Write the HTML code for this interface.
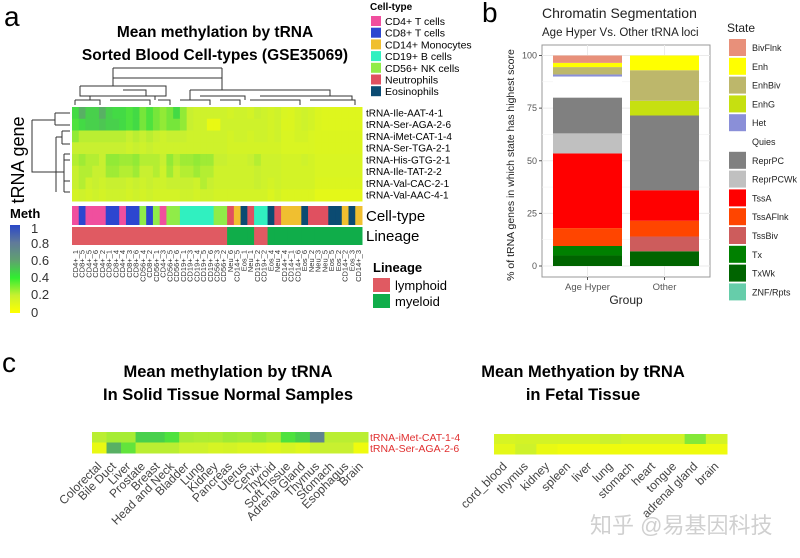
<!DOCTYPE html>
<html><head><meta charset="utf-8"><style>
body{margin:0;background:#fff;width:800px;height:558px;overflow:hidden;font-family:"Liberation Sans","Noto Sans CJK SC",sans-serif}
svg{display:block}
</style></head><body>
<svg id="fig" width="800" height="558" xmlns="http://www.w3.org/2000/svg" font-family="Liberation Sans, Noto Sans CJK SC, sans-serif">
<rect width="800" height="558" fill="#fff"/>
<!-- Panel a -->
<text x="4" y="26" font-size="28">a</text>
<text x="215" y="37" font-size="15.5" font-weight="bold" text-anchor="middle">Mean methylation by tRNA</text>
<text x="215" y="60" font-size="15.5" font-weight="bold" text-anchor="middle">Sorted Blood Cell-types (GSE35069)</text>
<text transform="translate(24,160) rotate(-90)" font-size="18" text-anchor="middle">tRNA gene</text>
<g id="dendroTop" stroke="#333" fill="none" stroke-width="1">
<path d="M113,68 V78 H222 V68 M113,68 H222 M113,78 V86 M222,78 V90 M80,86 V96 H166 V86 H80 M90,96 V100 M155,96 V100 M123,90 H146 V96 M190,90 H330 V96 M190,90 V100 M200,96 H245 V100 M260,96 H352 V100 M75,100 H100 V105 M110,100 H150 V105 M158,100 H170 V105 M180,100 H210 V105 M220,100 H240 V105 M250,100 H300 V105 M310,100 H355 V105 M75,100 V105 M100,100 V105 M150,100 V105 M170,100 V105 M210,100 V105 M240,100 V105 M300,100 V105 M355,100 V105"/>
</g>
<g id="dendroLeft" stroke="#333" fill="none" stroke-width="1">
<path d="M32,120 V172 H56 M32,120 H55 M55,113 V125 M55,113 H70 M55,125 H70 M56,137 V192 M56,137 H62 M62,131 V144 M62,131 H70 M62,144 H70 M56,172 H64 M64,154 V192 M64,160 V181 M64,160 H70 M64,181 H70 M64,154 H70 M64,192 H70"/>
</g>
<g id="heatA"></g>
<g id="rowLabelsA" font-size="10"></g>
<g id="cellTypeBar"></g>
<g id="lineageBar"></g>
<g id="colLabelsA" font-size="7.5" fill="#333"></g>
<text x="366" y="221" font-size="15">Cell-type</text>
<text x="366" y="241" font-size="15">Lineage</text>
<defs><linearGradient id="methGrad" x1="0" y1="1" x2="0" y2="0">
<stop offset="0" stop-color="#ffff00"/><stop offset="0.2" stop-color="#c8f030"/><stop offset="0.4" stop-color="#30ee30"/><stop offset="0.6" stop-color="#60a070"/><stop offset="0.8" stop-color="#607a9a"/><stop offset="1" stop-color="#2a48c8"/></linearGradient></defs>
<text x="10" y="218" font-size="13" font-weight="bold">Meth</text>
<rect x="10" y="225" width="10" height="88" fill="url(#methGrad)"/>
<g font-size="13" fill="#333">
<text x="31" y="233">1</text><text x="31" y="248">0.8</text><text x="31" y="265">0.6</text><text x="31" y="282">0.4</text><text x="31" y="299">0.2</text><text x="31" y="317">0</text></g>
<g id="ctLegend"></g>
<text x="373" y="272" font-size="13" font-weight="bold">Lineage</text>
<rect x="373" y="278" width="17" height="14" fill="#e05a62"/>
<text x="395" y="290" font-size="13">lymphoid</text>
<rect x="373" y="294" width="17" height="14" fill="#10ad4a"/>
<text x="395" y="306" font-size="13">myeloid</text>

<!-- Panel b -->
<text x="482" y="22" font-size="28">b</text>
<text x="542" y="18" font-size="14" fill="#222">Chromatin Segmentation</text>
<text x="542" y="36" font-size="11.5" fill="#222">Age Hyper Vs. Other tRNA loci</text>
<g id="chartB"></g>
<text transform="translate(514,165) rotate(-90)" font-size="10.5" text-anchor="middle" fill="#222">% of tRNA genes in which state has highest score</text>
<text x="626" y="304" font-size="12" text-anchor="middle" fill="#222">Group</text>
<text x="727" y="32" font-size="12" fill="#222">State</text>
<g id="legendB" font-size="9" fill="#222"></g>

<!-- Panel c -->
<text x="2" y="372" font-size="28">c</text>
<text x="228" y="377" font-size="16.5" font-weight="bold" text-anchor="middle">Mean methylation by tRNA</text>
<text x="228" y="400" font-size="16.5" font-weight="bold" text-anchor="middle">In Solid Tissue Normal Samples</text>
<text x="583" y="377" font-size="16.5" font-weight="bold" text-anchor="middle">Mean Methyation by tRNA</text>
<text x="583" y="400" font-size="16.5" font-weight="bold" text-anchor="middle">in Fetal Tissue</text>
<g id="heatC"></g>
<g id="heatF"></g>
<text x="370" y="441" font-size="10.5" fill="#e03030">tRNA-iMet-CAT-1-4</text>
<text x="370" y="452" font-size="10.5" fill="#e03030">tRNA-Ser-AGA-2-6</text>
<text x="590" y="533" font-size="22" fill="#d0d0d0">知乎 @易基因科技</text>
</svg>
<script>
// ---- Panel a data ----
const geneNames = ["tRNA-Ile-AAT-4-1","tRNA-Ser-AGA-2-6","tRNA-iMet-CAT-1-4","tRNA-Ser-TGA-2-1","tRNA-His-GTG-2-1","tRNA-Ile-TAT-2-2","tRNA-Val-CAC-2-1","tRNA-Val-AAC-4-1"];
const sampleLabels = ["CD4+_1","CD8+_5","CD4+_5","CD4+_6","CD4+_2","CD8+_1","CD8+_4","CD4+_4","CD8+_3","CD8+_6","CD56+_4","CD8+_2","CD56+_1","CD4+_3","CD56+_5","CD56+_6","CD19+_1","CD19+_3","CD19+_4","CD19+_5","CD19+_6","CD56+_3","CD56+_2","Neu_6","CD14+_5","Eos_1","Neu_1","CD19+_2","CD19+_2","Eos_4","Neu_4","CD14+_4","CD14+_1","CD14+_6","Eos_6","Neu_2","Neu_3","Neu_5","Eos_5","Eos_2","CD14+_2","Eos_3","CD14+_3"];
const sampleTypes = ["CD4","CD8","CD4","CD4","CD4","CD8","CD8","CD4","CD8","CD8","CD56","CD8","CD56","CD4","CD56","CD56","CD19","CD19","CD19","CD19","CD19","CD56","CD56","Neu","CD14","Eos","Neu","CD19","CD19","Eos","Neu","CD14","CD14","CD14","Eos","Neu","Neu","Neu","Eos","Eos","CD14","Eos","CD14"];
const sampleLineage = ["L","L","L","L","L","L","L","L","L","L","L","L","L","L","L","L","L","L","L","L","L","L","L","M","M","M","M","L","L","M","M","M","M","M","M","M","M","M","M","M","M","M","M"];
const methRow1 = [0.42,0.55,0.45,0.45,0.55,0.45,0.42,0.42,0.38,0.42,0.32,0.38,0.32,0.28,0.32,0.42,0.28,0.2,0.18,0.18,0.18,0.18,0.18,0.16,0.18,0.18,0.16,0.2,0.18,0.16,0.18,0.14,0.13,0.16,0.18,0.16,0.13,0.12,0.12,0.12,0.12,0.12,0.12];
const methRow2 = [0.38,0.42,0.45,0.45,0.48,0.45,0.45,0.42,0.38,0.42,0.32,0.38,0.32,0.28,0.32,0.32,0.28,0.2,0.18,0.18,0.08,0.08,0.18,0.18,0.18,0.18,0.18,0.18,0.18,0.16,0.18,0.13,0.13,0.16,0.18,0.16,0.13,0.12,0.12,0.12,0.12,0.12,0.12];
const methRow3 = [0.28,0.22,0.22,0.22,0.22,0.22,0.22,0.22,0.2,0.22,0.2,0.22,0.2,0.18,0.2,0.2,0.2,0.18,0.18,0.18,0.18,0.18,0.18,0.16,0.18,0.18,0.16,0.18,0.18,0.16,0.18,0.14,0.14,0.16,0.16,0.14,0.13,0.13,0.13,0.13,0.13,0.13,0.13];
const methRow4 = [0.2,0.2,0.2,0.2,0.2,0.2,0.2,0.2,0.18,0.2,0.18,0.2,0.18,0.18,0.18,0.18,0.18,0.18,0.18,0.18,0.18,0.18,0.18,0.16,0.16,0.16,0.16,0.16,0.16,0.16,0.16,0.14,0.14,0.14,0.14,0.14,0.13,0.13,0.13,0.13,0.13,0.13,0.13];
const methRow5 = [0.23,0.26,0.23,0.23,0.2,0.28,0.28,0.26,0.26,0.28,0.23,0.23,0.23,0.2,0.28,0.23,0.26,0.26,0.28,0.26,0.26,0.2,0.2,0.18,0.18,0.18,0.2,0.23,0.18,0.18,0.18,0.16,0.16,0.16,0.18,0.16,0.14,0.14,0.14,0.14,0.14,0.14,0.14];
const methRow6 = [0.2,0.23,0.23,0.2,0.2,0.26,0.26,0.23,0.23,0.26,0.2,0.2,0.23,0.18,0.26,0.2,0.23,0.23,0.26,0.23,0.23,0.18,0.18,0.18,0.18,0.18,0.18,0.2,0.18,0.18,0.18,0.16,0.16,0.16,0.16,0.16,0.14,0.14,0.14,0.14,0.14,0.14,0.14];
const methRow7 = [0.2,0.23,0.18,0.2,0.18,0.2,0.2,0.2,0.18,0.2,0.18,0.2,0.18,0.18,0.2,0.2,0.2,0.2,0.18,0.23,0.2,0.18,0.18,0.18,0.18,0.18,0.18,0.2,0.18,0.16,0.18,0.16,0.16,0.16,0.16,0.16,0.13,0.13,0.13,0.13,0.13,0.13,0.13];
const methRow8 = [0.16,0.18,0.16,0.18,0.16,0.18,0.18,0.18,0.16,0.18,0.16,0.18,0.16,0.16,0.16,0.16,0.18,0.18,0.16,0.18,0.18,0.16,0.16,0.16,0.16,0.16,0.16,0.16,0.16,0.13,0.16,0.13,0.13,0.13,0.13,0.13,0.1,0.1,0.1,0.1,0.1,0.1,0.1];
const methRowsA = [methRow1,methRow2,methRow3,methRow4,methRow5,methRow6,methRow7,methRow8];
const cellTypeKeys = ["CD4","CD8","CD14","CD19","CD56","Neu","Eos"];
const cellTypeNames = ["CD4+ T cells","CD8+ T cells","CD14+ Monocytes","CD19+ B cells","CD56+ NK cells","Neutrophils","Eosinophils"];
const cellTypeColors = {CD4:"#f04f9e",CD8:"#2c46d0",CD14:"#f0bf30",CD19:"#30f0c0",CD56:"#90ec48",Neu:"#e05060",Eos:"#0b4b72"};
const lineageColors = {L:"#e05a62",M:"#10ad4a"};

// ---- Panel b data ----
const groups = ["Age Hyper","Other"];
const states = ["BivFlnk","Enh","EnhBiv","EnhG","Het","Quies","ReprPC","ReprPCWk","TssA","TssAFlnk","TssBiv","Tx","TxWk","ZNF/Rpts"];
const stateColors = ["#e8907a","#ffff00","#bdb76b","#c6e010","#8a8fd8","#ffffff","#808080","#c0c0c0","#ff0000","#ff4500","#cd5c5c","#008000","#006400","#66cdaa"];
const ageHyperPct = [3.5,2,3.5,0,1,10,17,9.5,35.5,8.5,0,4.5,5,0];
const otherPct = [0,7,14.5,7,0,0,35.5,0,14.5,7.5,7,0,7,0];
const yTicksB = [0,25,50,75,100];

// ---- Panel c data ----
const solidTissues = ["Colorectal","Bile Duct","Liver","Prostate","Breast","Head and Neck","Bladder","Lung","Kidney","Pancreas","Uterus","Cervix","Thyroid","Soft Tissue","Adrenal Gland","Thymus","Stomach","Esophagus","Brain"];
const solidIMet = [0.22,0.25,0.25,0.45,0.45,0.38,0.25,0.24,0.24,0.26,0.25,0.28,0.25,0.38,0.45,0.75,0.22,0.22,0.22];
const solidSer = [0.08,0.55,0.35,0.22,0.22,0.22,0.18,0.18,0.15,0.16,0.14,0.14,0.12,0.15,0.12,0.2,0.2,0.2,0.06];
const fetalTissues = ["cord_blood","thymus","kidney","spleen","liver","lung","stomach","heart","tongue","adrenal gland","brain"];
const fetalIMet = [0.15,0.16,0.16,0.16,0.16,0.19,0.16,0.16,0.16,0.3,0.16];
const fetalSer = [0.1,0.18,0.08,0.06,0.06,0.06,0.06,0.06,0.06,0.06,0.06];

const NS="http://www.w3.org/2000/svg";
function mk(tag,attrs,parent,txt){const e=document.createElementNS(NS,tag);for(const k in attrs)e.setAttribute(k,attrs[k]);if(txt!==undefined)e.textContent=txt;parent.appendChild(e);return e;}
const stops=[[0,[255,255,0]],[0.2,[200,240,48]],[0.4,[64,224,64]],[0.6,[96,160,112]],[0.8,[96,122,154]],[1,[42,72,200]]];
function methColor(v){v=Math.max(0,Math.min(1,v));for(let i=1;i<stops.length;i++){if(v<=stops[i][0]){const a=stops[i-1],b=stops[i],t=(v-a[0])/(b[0]-a[0]);const c=a[1].map((x,j)=>Math.round(x+(b[1][j]-x)*t));return `rgb(${c})`;}}return "rgb(42,72,200)";}

// Panel a heatmap
const ax0=72,ax1=362,ay0=107,ay1=201;
const cw=(ax1-ax0)/sampleLabels.length, rh=(ay1-ay0)/geneNames.length;
const colX=i=>ax0+i*cw, rowY=j=>ay0+j*rh;
const gA=document.getElementById('heatA');
methRowsA.forEach((row,j)=>row.forEach((v,i)=>{
 const r=mk('rect',{x:colX(i),y:rowY(j),width:cw+0.5,height:rh+0.5,fill:methColor(v)},gA);
 
 
}));
const gRL=document.getElementById('rowLabelsA');
geneNames.forEach((g,j)=>{const t=mk('text',{x:366,y:rowY(j)+rh/2+3.5},gRL,g);
 
 });
const gCT=document.getElementById('cellTypeBar'), gLN=document.getElementById('lineageBar'), gCL=document.getElementById('colLabelsA');
sampleTypes.forEach((s,i)=>{
 const r=mk('rect',{x:colX(i),y:206,width:cw+0.5,height:19,fill:cellTypeColors[s]},gCT);
 
 
 const l=mk('rect',{x:colX(i),y:227,width:cw+0.5,height:18,fill:lineageColors[sampleLineage[i]]},gLN);
 
 
 const t=mk('text',{transform:`translate(${colX(i)+cw/2+2.5},250) rotate(-90)`,'text-anchor':'end'},gCL,sampleLabels[i]);
 
 
});
const gCTL=document.getElementById('ctLegend');
const ctT=mk('text',{x:370,y:10,'font-size':10,'font-weight':'bold'},gCTL,'Cell-type');


cellTypeKeys.forEach((k,i)=>{
 const y=16+i*11.7;
 const r=mk('rect',{x:371,y:y,width:10,height:10,fill:cellTypeColors[k]},gCTL);
 
 
 const t=mk('text',{x:385,y:y+9,'font-size':10.5},gCTL,cellTypeNames[i]);
 
 
});

// Panel b
const gB=document.getElementById('chartB');
const px0=542,px1=710,py0=45,py1=277;
const yB=v=>266-v*(266-55.5)/100;
const bandX=[553,630], bandW=69;
mk('rect',{x:px0,y:py0,width:px1-px0,height:py1-py0,fill:'#fff',stroke:'#999','stroke-width':1},gB);
[12.5,37.5,62.5,87.5].forEach(v=>mk('line',{x1:px0,x2:px1,y1:yB(v),y2:yB(v),stroke:'#f2f2f2','stroke-width':0.6},gB));
yTicksB.forEach(v=>{
 mk('line',{x1:px0,x2:px1,y1:yB(v),y2:yB(v),stroke:'#ebebeb','stroke-width':1},gB);
 mk('line',{x1:px0-3,x2:px0,y1:yB(v),y2:yB(v),stroke:'#555'},gB);
 const t=mk('text',{x:px0-5,y:yB(v)+3,'font-size':9,fill:'#555','text-anchor':'end'},gB,String(v));
 
 
});
[ageHyperPct,otherPct].forEach((vals,g)=>{
 mk('line',{x1:bandX[g]+bandW/2,x2:bandX[g]+bandW/2,y1:py0,y2:py1,stroke:'#ebebeb'},gB);
 let cum=0;
 for(let s=states.length-1;s>=0;s--){
  const v=vals[s]; if(v<=0){continue;}
  const r=mk('rect',{x:bandX[g],y:yB(cum+v),width:bandW,height:yB(cum)-yB(cum+v),fill:stateColors[s]},gB);
  
  
  cum+=v;
 }
 mk('line',{x1:bandX[g]+bandW/2,x2:bandX[g]+bandW/2,y1:py1,y2:py1+3,stroke:'#555'},gB);
 const t=mk('text',{x:bandX[g]+bandW/2,y:290,'font-size':9.5,fill:'#555','text-anchor':'middle'},gB,groups[g]);
 
 
});
const gLB=document.getElementById('legendB');
states.forEach((s,i)=>{
 const y=39+i*18.8;
 const r=mk('rect',{x:729,y:y,width:17,height:17,fill:stateColors[i]},gLB);
 
 
 const t=mk('text',{x:752,y:y+12},gLB,s);
 
 
});

// Panel c
function heatStrip(gid,names,r1,r2,x0,x1,y0,y1){
 const g=document.getElementById(gid);
 const w=(x1-x0)/names.length,h=(y1-y0)/2;
 [r1,r2].forEach((row,j)=>row.forEach((v,i)=>{
  const r=mk('rect',{x:x0+i*w,y:y0+j*h,width:w+0.5,height:h+0.5,fill:methColor(v)},g);
  
  
 }));
 names.forEach((n,i)=>{
  const cx=x0+i*w+w/2+3;
  const t=mk('text',{transform:`translate(${cx},467) rotate(-45)`,'text-anchor':'end','font-size':12,fill:'#444'},g,n);
  
  
 });
}
heatStrip('heatC',solidTissues,solidIMet,solidSer,92,368,432,453);
heatStrip('heatF',fetalTissues,fetalIMet,fetalSer,494,727,434,454);
</script>
</body></html>
